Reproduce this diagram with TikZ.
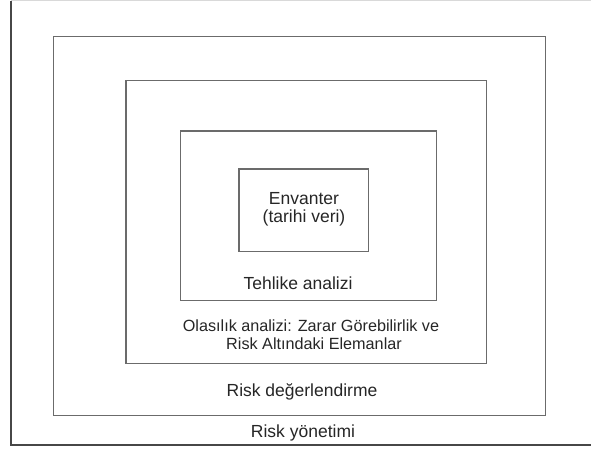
\documentclass[tikz,border=0pt]{standalone}
\usepackage{fontspec}
\setmainfont{Liberation Sans}
\begin{document}
\begin{tikzpicture}[x=1pt,y=-1pt,
  frame/.style={draw=black!58, line width=1.2pt, inner sep=0pt, outer sep=0pt, fill=none},
  label/.style={inner sep=0pt, text=black!85, font=\fontsize{17.5}{20}\selectfont},
  smalllabel/.style={inner sep=0pt, text=black!85, align=center, font=\fontsize{16.2}{17.5}\selectfont}]
  \useasboundingbox (0,0) rectangle (591,450);
  \fill[white] (0,0) rectangle (591,450);
  % outermost frame: risk management
  \coordinate (otl) at (11,0.6);
  \coordinate (obl) at (11,445);
  \coordinate (obr) at (591,445);
  \coordinate (otr) at (591,0.6);
  \draw[black!15, line width=1.2pt] (otl) -- (otr);
  \draw[black!72, line width=1.2pt] (otl) -- (obl) -- (obr);
  % nested frames
  \node[frame, minimum width=491.6pt, minimum height=379pt] (assess) at (299.5,225.8) {};
  \node[frame, minimum width=360.7pt, minimum height=282.6pt] (prob) at (306.35,222) {};
  \node[frame, minimum width=256.4pt, minimum height=169.3pt] (hazard) at (308.5,215.65) {};
  \node[frame, minimum width=129.7pt, minimum height=82.7pt] (inv) at (303.85,210.35) {};
  % labels
  \node[label] (invA) at (304,199) {Envanter};
  \node[label] (invB) at (304,218) {(tarihi veri)};
  \node[label] (hazardL) at (298,283) {Tehlike analizi};
  \node[smalllabel] (probA) at (311,326) {Olasılık analizi: Zarar Görebilirlik ve};
  \node[smalllabel] (probB) at (314,343.5) {Risk Altındaki Elemanlar};
  \node[label] (assessL) at (302,392) {Risk değerlendirme};
  \node[label] (mgmtL) at (303,433) {Risk yönetimi};
\end{tikzpicture}
\end{document}
